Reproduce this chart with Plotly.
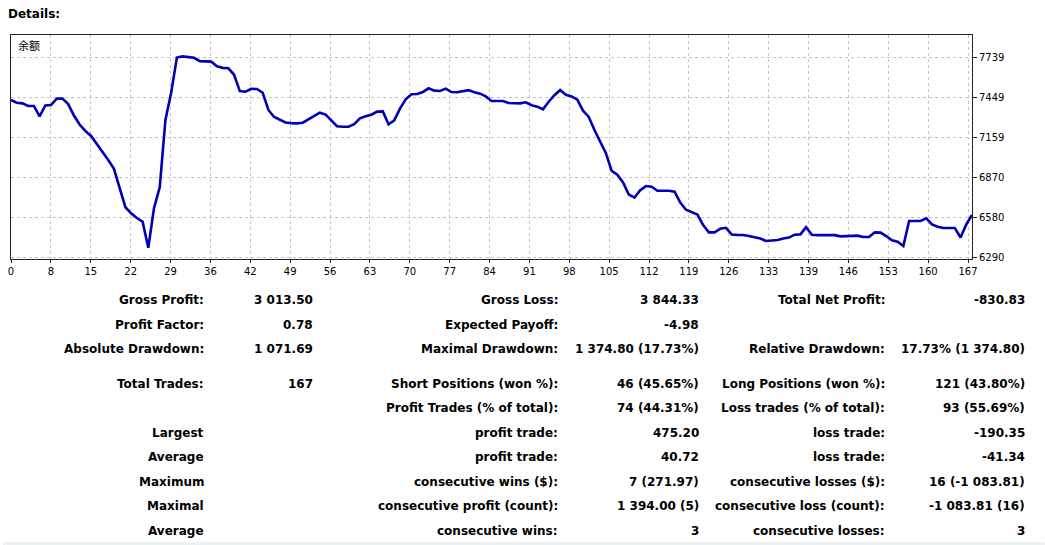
import plotly.graph_objects as go

# ---------------- data ----------------
balance = [
    7432, 7413, 7408, 7389, 7389, 7314, 7393, 7396, 7442, 7442,
    7403, 7320, 7255, 7208, 7172, 7117, 7062, 6998, 6934, 6795,
    6656, 6612, 6578, 6552, 6362, 6650, 6800, 7290, 7485, 7740,
    7748, 7743, 7738, 7714, 7711, 7710, 7677, 7665, 7662, 7615,
    7497, 7492, 7513, 7512, 7485, 7360, 7309, 7290, 7270, 7265,
    7263, 7268, 7292, 7310, 7340, 7327, 7284, 7242, 7239, 7239,
    7257, 7300, 7315, 7326, 7348, 7350, 7256, 7285, 7370, 7437,
    7474, 7476, 7490, 7517, 7500, 7498, 7515, 7490, 7488, 7497,
    7504, 7489, 7478, 7458, 7425, 7425, 7425, 7410, 7408, 7408,
    7416, 7395, 7384, 7365, 7420, 7467, 7505, 7470, 7458, 7435,
    7355, 7310, 7215, 7134, 7047, 6919, 6892, 6835, 6748, 6726,
    6779, 6809, 6805, 6775, 6775, 6775, 6768, 6690, 6638, 6621,
    6603, 6527, 6474, 6474, 6500, 6507, 6458, 6456, 6455, 6448,
    6439, 6429, 6411, 6412, 6418, 6429, 6436, 6457, 6459, 6512,
    6457, 6454, 6454, 6454, 6454, 6445, 6445, 6448, 6450, 6440,
    6440, 6474, 6472, 6447, 6416, 6406, 6375, 6556, 6556, 6556,
    6575, 6531, 6515, 6505, 6505, 6505, 6437, 6531, 6600,
]
trade_index = list(range(len(balance)))

x_tick_labels = ["0", "8", "15", "22", "29", "36", "42", "49", "56", "63", "70",
                 "77", "84", "91", "98", "105", "112", "119", "126", "133",
                 "139", "146", "153", "160", "167"]
y_tick_values = [7739, 7449, 7159, 6870, 6580, 6290]

row_col1_labels = ["Gross Profit:", "Profit Factor:", "Absolute Drawdown:", "Total Trades:", "",
                   "Largest", "Average", "Maximum", "Maximal", "Average"]
row_col1_values = ["3 013.50", "0.78", "1 071.69", "167", "", "", "", "", "", ""]
row_col2_labels = ["Gross Loss:", "Expected Payoff:", "Maximal Drawdown:", "Short Positions (won %):",
                   "Profit Trades (% of total):", "profit trade:", "profit trade:",
                   "consecutive wins ($):", "consecutive profit (count):", "consecutive wins:"]
row_col2_values = ["3 844.33", "-4.98", "1 374.80 (17.73%)", "46 (45.65%)", "74 (44.31%)",
                   "475.20", "40.72", "7 (271.97)", "1 394.00 (5)", "3"]
row_col3_labels = ["Total Net Profit:", "", "Relative Drawdown:", "Long Positions (won %):",
                   "Loss trades (% of total):", "loss trade:", "loss trade:",
                   "consecutive losses ($):", "consecutive loss (count):", "consecutive losses:"]
row_col3_values = ["-830.83", "", "17.73% (1 374.80)", "121 (43.80%)", "93 (55.69%)",
                   "-190.35", "-41.34", "16 (-1 083.81)", "-1 083.81 (16)", "3"]

# ---------------- layout geometry ----------------
W, H = 1045, 545
PL, PR, PT, PB = 8, 972, 35, 259          # plot area in pixels
n_last = len(balance) - 1
grid_step = 40 * n_last / (PR - PL)       # 40px grid spacing in index units
x_tick_vals = [k * grid_step for k in range(len(x_tick_labels))]

def to_paper(x, y):
    return (x - PL) / (PR - PL), (PB - y) / (PB - PT)

fig = go.Figure()
fig.add_trace(go.Scatter(
    x=trade_index, y=balance, mode="lines",
    line=dict(color="#0000b4", width=2.6),
    hoverinfo="skip", showlegend=False,
))

tick_font = dict(family="DejaVu Sans", size=10, color="#000000")
fig.update_xaxes(
    range=[0, n_last], tickmode="array", tickvals=x_tick_vals, ticktext=x_tick_labels,
    showgrid=True, gridcolor="#c4c4c4", griddash="3px,3px", gridwidth=1,
    showline=True, linecolor="#222222", linewidth=1, mirror=True,
    ticks="outside", ticklen=3, tickcolor="#222222", tickfont=tick_font,
    zeroline=False, fixedrange=True,
)
fig.update_yaxes(
    range=[6281, 7903], tickmode="array", tickvals=y_tick_values,
    ticktext=[str(v) for v in y_tick_values], side="right",
    showgrid=True, gridcolor="#c4c4c4", griddash="3px,3px", gridwidth=1,
    showline=True, linecolor="#222222", linewidth=1, mirror=True,
    ticks="outside", ticklen=4, tickcolor="#222222", tickfont=tick_font,
    zeroline=False, fixedrange=True,
)

annotations = []
px, py = to_paper(3, 14)
annotations.append(dict(x=px, y=py, xref="paper", yref="paper", xanchor="left", yanchor="middle",
                        text="<b>Details:</b>", showarrow=False,
                        font=dict(family="DejaVu Sans", size=12, color="#000000")))
px, py = to_paper(13, 45)
annotations.append(dict(x=px, y=py, xref="paper", yref="paper", xanchor="left", yanchor="middle",
                        text="余额", showarrow=False,
                        font=dict(family="Noto Sans CJK SC", size=11, color="#000000")))

row_y = [300, 324.5, 348.5, 383.5, 408, 432.5, 457, 481.5, 506, 530.5]
col_right = [204, 313, 559, 700, 887, 1027]
cols = [row_col1_labels, row_col1_values, row_col2_labels, row_col2_values,
        row_col3_labels, row_col3_values]
table_font = dict(family="DejaVu Sans", size=12, color="#000000")
for ci, col in enumerate(cols):
    for ri, txt in enumerate(col):
        if not txt:
            continue
        px, py = to_paper(col_right[ci], row_y[ri])
        annotations.append(dict(x=px, y=py, xref="paper", yref="paper", xanchor="right",
                                yanchor="middle", text="<b>" + txt + "</b>", showarrow=False,
                                font=table_font))

fig.update_layout(
    width=W, height=H, autosize=False,
    margin=dict(l=PL, r=W - PR, t=PT, b=H - PB, pad=0),
    paper_bgcolor="#ffffff", plot_bgcolor="#ffffff",
    annotations=annotations,
    shapes=[dict(type="rect", xref="paper", yref="paper",
                 x0=to_paper(0, 0)[0], x1=to_paper(W, 0)[0],
                 y0=to_paper(0, 542)[1], y1=to_paper(0, H)[1],
                 fillcolor="#eaf2f3", line=dict(width=0), layer="below")],
)

fig.write_html(
    "out.html",
    config={"displayModeBar": False, "staticPlot": True},
    post_script="document.body.style.margin='0';document.body.style.overflow='hidden';",
)
